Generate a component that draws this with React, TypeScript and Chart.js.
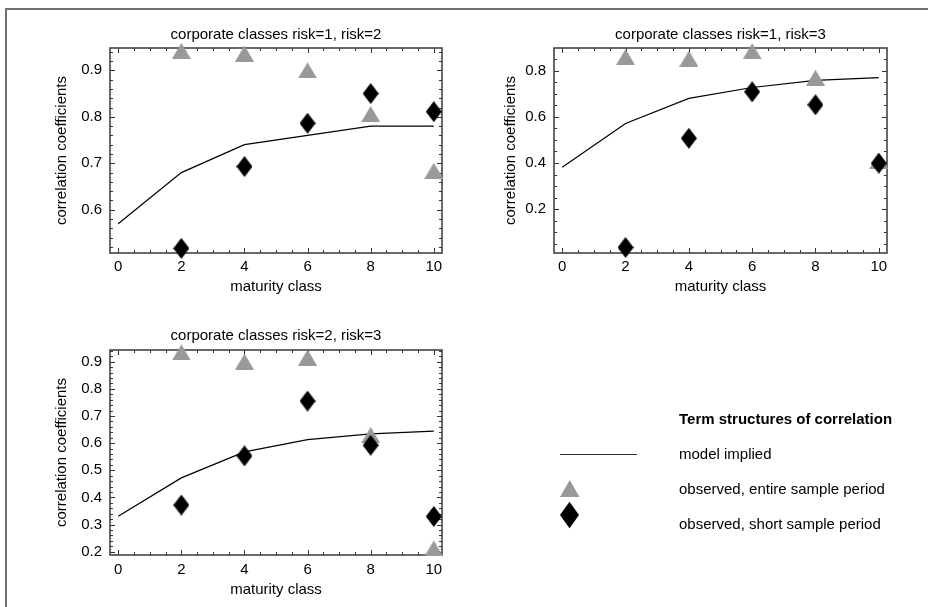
import React, { useEffect, useRef } from 'react';
import { Chart, registerables } from 'chart.js';

Chart.register(...registerables);

// ---------------- data ----------------
const modelMaturity = [0, 2, 4, 6, 8, 10];
const obsMaturity = [2, 4, 6, 8, 10];
const xTickValues = [0, 2, 4, 6, 8, 10];

const risk12Title = 'corporate classes risk=1, risk=2';
const risk12Model = [0.57, 0.68, 0.74, 0.76, 0.78, 0.78];
const risk12Entire = [0.942, 0.936, 0.9, 0.806, 0.684];
const risk12Short = [0.517, 0.693, 0.786, 0.85, 0.811];
const risk12YTicks = [0.6, 0.7, 0.8, 0.9];

const risk13Title = 'corporate classes risk=1, risk=3';
const risk13Model = [0.381, 0.571, 0.68, 0.727, 0.758, 0.77];
const risk13Entire = [0.859, 0.852, 0.884, 0.769, 0.41];
const risk13Short = [0.034, 0.507, 0.708, 0.652, 0.399];
const risk13YTicks = [0.2, 0.4, 0.6, 0.8];

const risk23Title = 'corporate classes risk=2, risk=3';
const risk23Model = [0.331, 0.472, 0.568, 0.613, 0.634, 0.644];
const risk23Entire = [0.934, 0.9, 0.915, 0.63, 0.212];
const risk23Short = [0.372, 0.553, 0.755, 0.592, 0.33];
const risk23YTicks = [0.2, 0.3, 0.4, 0.5, 0.6, 0.7, 0.8, 0.9];

const xAxisTitle = 'maturity class';
const yAxisTitle = 'correlation coefficients';
const legendTitle = 'Term structures of correlation';
const legendLabels = ['model implied', 'observed, entire sample period', 'observed, short sample period'];

// ---------------- styling ----------------
const FONT = '"Liberation Sans", Arial, Helvetica, sans-serif';
const GRAY = '#999999';

function makeTriangle(): HTMLCanvasElement {
  const c = document.createElement('canvas');
  c.width = 19;
  c.height = 16;
  const g = c.getContext('2d')!;
  g.fillStyle = GRAY;
  g.beginPath();
  g.moveTo(9.5, 0);
  g.lineTo(19, 16);
  g.lineTo(0, 16);
  g.closePath();
  g.fill();
  return c;
}

function makeDiamond(): HTMLCanvasElement {
  const c = document.createElement('canvas');
  c.width = 16;
  c.height = 21;
  const g = c.getContext('2d')!;
  g.fillStyle = '#000';
  g.beginPath();
  g.moveTo(8, 0);
  g.lineTo(16, 10.5);
  g.lineTo(8, 21);
  g.lineTo(0, 10.5);
  g.closePath();
  g.fill();
  return c;
}

const frameTicksPlugin = {
  id: 'frameTicks',
  beforeDatasetsDraw(chart: any, _args: any, opts: any) {
    const { ctx, chartArea } = chart;
    const { left, right, top, bottom } = chartArea;
    const xs = chart.scales.x;
    const ys = chart.scales.y;
    ctx.save();
    // ticks
    ctx.strokeStyle = '#333';
    ctx.lineWidth = 1;
    const majorLen = 5;
    const minorLen = 3;
    const drawX = (v: number, len: number) => {
      const p = Math.round(xs.getPixelForValue(v)) + 0.5;
      ctx.beginPath();
      ctx.moveTo(p, bottom);
      ctx.lineTo(p, bottom - len);
      ctx.moveTo(p, top);
      ctx.lineTo(p, top + len);
      ctx.stroke();
    };
    const drawY = (v: number, len: number) => {
      const p = Math.round(ys.getPixelForValue(v)) + 0.5;
      ctx.beginPath();
      ctx.moveTo(left, p);
      ctx.lineTo(left + len, p);
      ctx.moveTo(right, p);
      ctx.lineTo(right - len, p);
      ctx.stroke();
    };
    const xMajor: number[] = opts.xMajor;
    const yMajor: number[] = opts.yMajor;
    const isMajor = (arr: number[], v: number) => arr.some((m) => Math.abs(m - v) < 1e-6);
    for (let k = Math.ceil(xs.min / opts.xMinor - 1e-9); k * opts.xMinor <= xs.max + 1e-9; k++) {
      const v = k * opts.xMinor;
      drawX(v, isMajor(xMajor, v) ? majorLen : minorLen);
    }
    for (let k = Math.ceil(ys.min / opts.yMinor - 1e-9); k * opts.yMinor <= ys.max + 1e-9; k++) {
      const v = k * opts.yMinor;
      drawY(v, isMajor(yMajor, v) ? majorLen : minorLen);
    }
    // frame
    ctx.strokeStyle = '#444';
    ctx.lineWidth = 1.6;
    ctx.strokeRect(left, top, right - left, bottom - top);
    ctx.restore();
  },
};

interface PanelCfg {
  left: number;
  top: number;
  w: number;
  h: number;
  title: string;
  model: number[];
  entire: number[];
  short: number[];
  yTicks: number[];
  yMin: number;
  yMax: number;
  yMinor: number;
  yWidth: number;
  xHeight: number;
  padRight: number;
  titleTop: number;
  titleBottom: number;
  yTitleOffset: number;
  xTitleBottom: number;
  xTickPad: number;
}

const panels: PanelCfg[] = [
  {
    left: 0, top: 0, w: 464, h: 300,
    title: risk12Title, model: risk12Model, entire: risk12Entire, short: risk12Short,
    yTicks: risk12YTicks, yMin: 0.507, yMax: 0.948, yMinor: 0.02,
    yWidth: 110, xHeight: 47, padRight: 22,
    titleTop: 26, titleBottom: 4, yTitleOffset: 52.7, xTitleBottom: 3.7, xTickPad: 4.5,
  },
  {
    left: 464, top: 0, w: 464, h: 300,
    title: risk13Title, model: risk13Model, entire: risk13Entire, short: risk13Short,
    yTicks: risk13YTicks, yMin: 0.01, yMax: 0.898, yMinor: 0.05,
    yWidth: 90, xHeight: 47, padRight: 41,
    titleTop: 26, titleBottom: 4, yTitleOffset: 37.7, xTitleBottom: 3.7, xTickPad: 4.5,
  },
  {
    left: 0, top: 300, w: 464, h: 307,
    title: risk23Title, model: risk23Model, entire: risk23Entire, short: risk23Short,
    yTicks: risk23YTicks, yMin: 0.188, yMax: 0.943, yMinor: 0.02,
    yWidth: 110, xHeight: 52, padRight: 22,
    titleTop: 27, titleBottom: 5, yTitleOffset: 52.7, xTitleBottom: 8, xTickPad: 6,
  },
];

function Panel({ cfg }: { cfg: PanelCfg }) {
  const ref = useRef<HTMLCanvasElement>(null);
  useEffect(() => {
    if (!ref.current) return;
    const tri = makeTriangle();
    const dia = makeDiamond();
    const font = { family: FONT, size: 15 };
    const chart = new Chart(ref.current, {
      type: 'scatter',
      data: {
        datasets: [
          {
            label: legendLabels[2],
            data: obsMaturity.map((x, i) => ({ x, y: cfg.short[i] })),
            pointStyle: dia as any,
            pointRadius: 10,
            order: 0,
            clip: false as any,
          },
          {
            label: legendLabels[1],
            data: obsMaturity.map((x, i) => ({ x, y: cfg.entire[i] })),
            pointStyle: tri as any,
            pointRadius: 10,
            order: 1,
            clip: false as any,
          },
          {
            label: legendLabels[0],
            data: modelMaturity.map((x, i) => ({ x, y: cfg.model[i] })),
            showLine: true,
            borderColor: '#000',
            borderWidth: 1.2,
            pointRadius: 0,
            tension: 0,
            order: 2,
            clip: false as any,
          },
        ],
      },
      options: {
        responsive: false,
        animation: false,
        events: [],
        layout: { padding: { left: 0, right: cfg.padRight, top: 0, bottom: 0 } },
        plugins: {
          legend: { display: false },
          tooltip: { enabled: false },
          title: {
            display: true,
            text: cfg.title,
            fullSize: false,
            color: '#000',
            font: { ...font, weight: 'normal' },
            padding: { top: cfg.titleTop, bottom: cfg.titleBottom },
          },
          frameTicks: {
            xMajor: xTickValues,
            yMajor: cfg.yTicks,
            xMinor: 0.5,
            yMinor: cfg.yMinor,
          },
        } as any,
        scales: {
          x: {
            type: 'linear',
            min: -0.26,
            max: 10.26,
            grid: { display: false, drawTicks: false },
            border: { display: false },
            afterBuildTicks: (s: any) => {
              s.ticks = xTickValues.map((v) => ({ value: v }));
            },
            afterFit: (s: any) => {
              s.height = cfg.xHeight;
            },
            ticks: {
              autoSkip: false,
              maxRotation: 0,
              color: '#000',
              font,
              padding: cfg.xTickPad,
              callback: (v: any) => String(v),
            },
            title: {
              display: true,
              text: xAxisTitle,
              color: '#000',
              font,
              padding: { top: 0, bottom: cfg.xTitleBottom },
            },
          },
          y: {
            type: 'linear',
            min: cfg.yMin,
            max: cfg.yMax,
            grid: { display: false, drawTicks: false },
            border: { display: false },
            afterBuildTicks: (s: any) => {
              s.ticks = cfg.yTicks.map((v) => ({ value: v }));
            },
            afterFit: (s: any) => {
              s.width = cfg.yWidth;
            },
            ticks: {
              autoSkip: false,
              color: '#000',
              font,
              padding: 8,
              callback: (v: any) => String(v),
            },
            title: {
              display: true,
              text: yAxisTitle,
              color: '#000',
              font,
              padding: { top: cfg.yTitleOffset, bottom: 0 },
            },
          },
        },
      } as any,
      plugins: [frameTicksPlugin as any],
    });
    return () => chart.destroy();
  }, [cfg]);
  return (
    <canvas
      ref={ref}
      width={cfg.w}
      height={cfg.h}
      style={{ position: 'absolute', left: cfg.left, top: cfg.top, width: cfg.w, height: cfg.h }}
    />
  );
}

function Legend() {
  const textStyle: React.CSSProperties = {
    position: 'absolute',
    left: 679,
    fontFamily: FONT,
    fontSize: 15,
    lineHeight: '18px',
    whiteSpace: 'nowrap',
    color: '#000',
  };
  return (
    <>
      <svg
        width={928}
        height={607}
        style={{ position: 'absolute', left: 0, top: 0, pointerEvents: 'none' }}
      >
        <line x1={560} y1={454.5} x2={637} y2={454.5} stroke="#333" strokeWidth={1.2} />
        <polygon points="560,497 579.5,497 569.75,480" fill={GRAY} />
        <polygon points="569.5,501.7 579,515 569.5,528.3 560,515" fill="#000" />
      </svg>
      <div style={{ ...textStyle, top: 410, fontWeight: 'bold' }}>{legendTitle}</div>
      <div style={{ ...textStyle, top: 445 }}>{legendLabels[0]}</div>
      <div style={{ ...textStyle, top: 480 }}>{legendLabels[1]}</div>
      <div style={{ ...textStyle, top: 515 }}>{legendLabels[2]}</div>
    </>
  );
}

export default function App() {
  return (
    <div
      style={{
        position: 'absolute',
        left: 0,
        top: 0,
        width: 928,
        height: 607,
        background: '#fff',
        overflow: 'hidden',
      }}
    >
      <div
        style={{
          position: 'absolute',
          left: 5,
          top: 8,
          right: 0,
          bottom: 0,
          borderLeft: '2px solid #707070',
          borderTop: '2px solid #707070',
        }}
      />
      {panels.map((p, i) => (
        <Panel key={i} cfg={p} />
      ))}
      <Legend />
    </div>
  );
}
